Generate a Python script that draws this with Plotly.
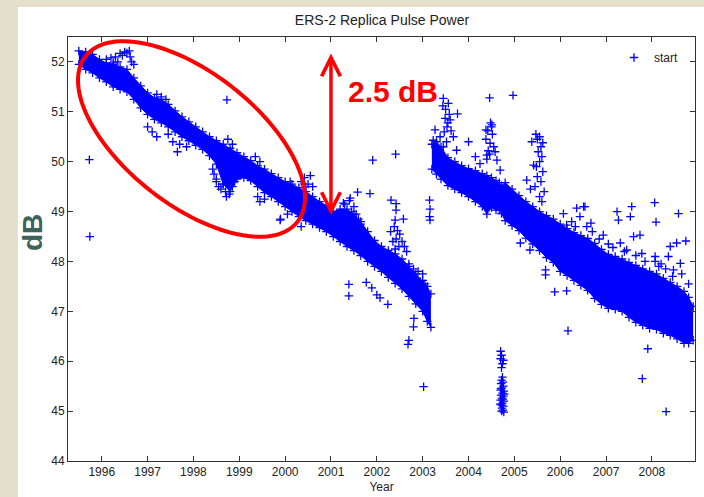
import numpy as np
import plotly.graph_objects as go

# ---------------------------------------------------------------
# ERS-2 replica pulse power (dB) versus year
# ---------------------------------------------------------------

# Dense part of the record, given as the lower / upper edge of the band
band1_year = [1995.50, 1995.65, 1995.80, 1995.95, 1996.10, 1996.25, 1996.40, 1996.55,
              1996.70, 1996.85, 1997.00, 1997.15, 1997.30, 1997.45, 1997.60, 1997.75,
              1997.90, 1998.05, 1998.20, 1998.35, 1998.50, 1998.65, 1998.80, 1998.95,
              1999.10, 1999.25, 1999.40, 1999.55, 1999.70, 1999.85, 2000.00, 2000.15,
              2000.30, 2000.45, 2000.60, 2000.75, 2000.90, 2001.05, 2001.20, 2001.35,
              2001.50, 2001.65, 2001.80, 2001.95, 2002.10, 2002.25, 2002.40, 2002.55,
              2002.70, 2002.85, 2003.00, 2003.10, 2003.18]
band1_hi = [52.22, 52.20, 52.15, 52.05, 51.98, 51.95, 51.90, 51.85,
            51.68, 51.52, 51.38, 51.28, 51.25, 51.15, 51.02, 50.90,
            50.80, 50.70, 50.60, 50.50, 50.42, 50.35, 50.27, 50.18,
            50.10, 50.02, 49.92, 49.85, 49.76, 49.68, 49.60, 49.55,
            49.48, 49.40, 49.30, 49.20, 49.12, 49.00, 49.05, 49.05,
            48.95, 48.80, 48.60, 48.42, 48.30, 48.22, 48.15, 48.05,
            47.90, 47.75, 47.62, 47.50, 47.35]
band1_lo = [51.95, 51.85, 51.78, 51.68, 51.60, 51.50, 51.45, 51.40,
            51.25, 51.08, 50.95, 50.85, 50.78, 50.70, 50.60, 50.50,
            50.42, 50.33, 50.25, 50.12, 49.95, 49.55, 49.40, 49.65,
            49.68, 49.62, 49.50, 49.38, 49.30, 49.20, 49.10, 49.00,
            48.90, 48.82, 48.75, 48.68, 48.60, 48.50, 48.40, 48.30,
            48.22, 48.12, 48.00, 47.90, 47.80, 47.68, 47.56, 47.45,
            47.30, 47.15, 47.00, 46.80, 46.68]

band2_year = [2003.20, 2003.30, 2003.40, 2003.55, 2003.70, 2003.85, 2004.00, 2004.15,
              2004.30, 2004.40, 2004.50, 2004.60, 2004.67, 2004.72, 2004.80, 2004.95,
              2005.10, 2005.25, 2005.40, 2005.55, 2005.70, 2005.85, 2006.00, 2006.15,
              2006.30, 2006.45, 2006.60, 2006.75, 2006.90, 2007.05, 2007.20, 2007.35,
              2007.50, 2007.65, 2007.80, 2007.95, 2008.10, 2008.25, 2008.40, 2008.55,
              2008.70, 2008.80, 2008.90]
band2_hi = [50.35, 50.40, 50.30, 50.08, 50.00, 49.92, 49.86, 49.82,
            49.76, 49.72, 49.68, 49.62, 49.58, 49.52, 49.58, 49.45,
            49.32, 49.20, 49.10, 49.00, 48.92, 48.85, 48.75, 48.66,
            48.58, 48.52, 48.46, 48.36, 48.24, 48.14, 48.10, 48.05,
            47.98, 47.92, 47.85, 47.80, 47.75, 47.66, 47.58, 47.50,
            47.40, 47.28, 47.10]
band2_lo = [49.85, 49.75, 49.65, 49.52, 49.45, 49.38, 49.30, 49.20,
            49.10, 48.95, 49.08, 49.03, 49.03, 48.96, 48.82, 48.72,
            48.62, 48.47, 48.35, 48.22, 48.08, 47.98, 47.80, 47.72,
            47.62, 47.52, 47.42, 47.26, 47.14, 47.06, 47.04, 47.00,
            46.88, 46.78, 46.72, 46.66, 46.64, 46.56, 46.52, 46.45,
            46.36, 46.36, 46.42]

# Individual samples away from the band (spikes, dips, outliers)
start_year = [
    # 1996 cluster and early outliers
    1996.10, 1996.20, 1996.30, 1996.40, 1996.45, 1996.50, 1996.55, 1996.60, 1996.62,
    1996.65, 1996.70, 1996.35, 1996.25, 1995.73, 1995.74, 1998.73,
    # small excursions 1997-2000
    1997.00, 1997.10, 1997.20, 1997.20, 1997.30, 1997.40,
    1997.45, 1997.55, 1997.65, 1997.70, 1997.85,
    1998.42, 1998.45, 1998.50, 1998.50, 1998.55, 1998.60, 1998.65, 1998.70, 1998.72,
    1998.78, 1998.85, 1998.90, 1998.75, 1998.85,
    1999.35, 1999.45, 1999.40, 1999.45, 1999.55,
    1999.90, 2000.05, 2000.35, 1999.89, 2000.11,
    2000.35, 2000.42, 2000.50, 2000.55, 2000.60, 2000.45,
    # 2001-2003
    2001.30, 2001.40, 2001.50, 2001.45, 2001.55, 2001.35, 2001.60, 2001.65,
    2001.27, 2001.42, 2001.58,
    2001.91, 2002.41, 2001.85, 2002.31, 2002.42, 2002.42, 2002.40, 2002.58,
    2002.30, 2002.38, 2002.45, 2002.50, 2002.42, 2002.35, 2002.55, 2002.48, 2002.60,
    2002.40, 2002.65,
    2002.70, 2002.80, 2002.90, 2003.00, 2002.95, 2003.05,
    2001.39, 2001.39, 2001.77, 2001.89, 2002.00, 2002.07, 2002.24, 2002.80, 2002.81,
    2002.70, 2002.68, 2003.02,
    2003.15, 2003.16, 2003.15, 2003.16,
    # 2003.5 spike
    2003.45, 2003.56, 2003.49, 2003.60, 2003.27, 2003.38, 2003.53, 2003.67, 2003.23,
    2003.74, 2003.45, 2003.50, 2003.58, 2003.44, 2003.55, 2003.47, 2003.62, 2003.52,
    2003.76, 2004.00,
    # 2004.4 spike
    2004.46, 2004.97, 2004.51, 2004.38, 2004.47, 2004.58, 2004.40, 2004.62, 2004.15,
    2004.25, 2004.69, 2004.48, 2004.50, 2004.42, 2004.52, 2004.38, 2004.55, 2004.43,
    2004.46, 2004.40,
    # 2004.7 low group
    2004.70, 2004.72, 2004.70, 2004.76, 2004.74, 2004.72, 2004.74, 2004.72, 2004.75,
    2004.71, 2004.76, 2004.73, 2004.70, 2004.77, 2004.74, 2004.71, 2004.76, 2004.73,
    2004.70, 2004.77, 2004.74, 2004.72, 2004.76, 2004.73, 2004.75, 2004.77, 2004.71,
    2004.75, 2004.72, 2004.78, 2004.69,
    # 2005.5 spike
    2005.47, 2005.55, 2005.50, 2005.62, 2005.58, 2005.52, 2005.60, 2005.55, 2005.48,
    2005.62, 2005.50, 2005.58, 2005.45, 2005.65, 2005.55, 2005.60, 2005.38, 2005.42,
    2005.27, 2005.35, 2005.13, 2005.34,
    # 2006-2008 upper fringe and outliers
    2006.36, 2006.54, 2006.43, 2006.33, 2006.58, 2006.07, 2006.14, 2006.51, 2006.67,
    2006.94, 2007.24, 2007.27, 2007.56, 2007.53, 2007.31, 2007.45, 2007.60, 2007.74,
    2007.78, 2008.07, 2008.07, 2008.06, 2008.09, 2008.58, 2008.74, 2008.40, 2008.54,
    2008.36, 2008.62, 2008.47,
    2006.25, 2006.70, 2006.85, 2007.05, 2007.15, 2007.40, 2007.65, 2007.85, 2008.20,
    2008.30, 2008.65, 2008.80, 2008.45, 2008.15,
    2005.68, 2005.68, 2005.88, 2006.14, 2006.17, 2007.91, 2007.79, 2008.31,
]
start_db = [
    52.05, 52.08, 52.10, 52.17, 52.13, 52.20, 52.18, 52.22, 52.10,
    52.00, 51.95, 52.00, 51.98, 50.04, 48.50, 51.24,
    50.70, 50.60, 50.50, 51.35, 51.30, 51.25,
    50.55, 50.40, 50.20, 50.35, 50.30,
    49.85, 49.75, 49.60, 49.65, 49.50, 49.45, 49.55, 49.40, 49.30,
    49.35, 49.50, 49.60, 50.45, 50.35,
    50.10, 50.00, 49.30, 49.20, 49.25,
    48.85, 48.95, 48.70, 48.83, 49.60,
    49.60, 49.68, 49.55, 49.72, 49.50, 49.50,
    49.15, 49.22, 49.10, 49.00, 48.95, 48.90, 48.85, 48.75,
    49.17, 49.27, 49.39,
    50.03, 50.15, 49.36, 49.23, 49.16, 49.03, 48.83, 48.85,
    48.60, 48.70, 48.62, 48.55, 48.45, 48.40, 48.40, 48.30, 48.30,
    48.25, 48.20,
    47.95, 47.85, 47.80, 47.75, 47.60, 47.55,
    47.54, 47.31, 47.58, 47.47, 47.33, 47.27, 47.14, 46.69, 46.86,
    46.42, 46.34, 45.49,
    49.23, 49.05, 48.90, 48.83,
    51.27, 51.17, 50.87, 50.84, 50.64, 50.50, 50.70, 50.50, 50.43,
    50.23, 50.30, 51.05, 50.95, 51.12, 50.78, 50.60, 50.62, 50.40,
    50.96, 50.40,
    51.28, 51.33, 50.74, 50.64, 50.37, 50.20, 50.13, 50.03, 50.10,
    49.96, 49.83, 50.78, 50.70, 50.62, 50.55, 50.45, 50.30, 50.22,
    50.15, 50.05,
    46.20, 46.12, 46.05, 46.02, 45.95, 45.87, 45.68, 45.62, 45.58,
    45.55, 45.50, 45.46, 45.42, 45.40, 45.36, 45.32, 45.30, 45.26,
    45.22, 45.20, 45.16, 45.12, 45.10, 45.06, 45.02, 44.98, 45.45,
    45.24, 45.00, 45.34, 45.14,
    50.55, 50.50, 50.45, 50.38, 50.30, 50.20, 50.10, 50.00, 49.90,
    49.80, 49.70, 49.60, 49.50, 49.40, 49.30, 49.20, 50.40, 49.93,
    49.63, 49.45, 48.37, 48.23,
    49.07, 49.10, 48.90, 48.70, 48.70, 48.96, 48.73, 49.10, 48.77,
    48.53, 49.00, 48.83, 49.10, 48.90, 48.37, 48.23, 48.50, 48.53,
    48.16, 48.10, 48.00, 49.18, 48.79, 48.96, 48.41, 48.30, 48.37,
    48.10, 47.96, 47.83,
    48.80, 48.60, 48.45, 48.35, 48.28, 48.20, 48.12, 48.00, 47.95,
    47.85, 47.75, 47.55, 47.70, 47.90,
    47.83, 47.73, 47.39, 47.41, 46.61, 46.25, 45.65, 44.99,
]

x_ticks = list(range(1996, 2009))
y_ticks = list(range(44, 53))

BLUE = "#0000FF"
RED = "#FF0000"
FONT = "Liberation Sans, Arial, sans-serif"

# page / plot-area geometry in pixels
W, H = 704, 497
L, R, T, B = 68, 695, 37, 461
X_RANGE = [1995.264, 2008.94]
Y_RANGE = [44.0, 52.5]


def px_to_paper(px, py):
    return (px - L) / (R - L), (B - py) / (B - T)


marker = dict(symbol="cross-thin-open", size=6, color=BLUE, line=dict(color=BLUE, width=1.3))

fig = go.Figure()

for yrs, lo, hi in ((band1_year, band1_lo, band1_hi), (band2_year, band2_lo, band2_hi)):
    fig.add_trace(go.Scatter(x=yrs, y=lo, mode="lines+markers", marker=marker,
                             line=dict(color=BLUE, width=1), showlegend=False,
                             legendgroup="start", hoverinfo="skip"))
    fig.add_trace(go.Scatter(x=yrs, y=hi, mode="lines+markers", marker=marker,
                             line=dict(color=BLUE, width=1), fill="tonexty",
                             fillcolor=BLUE, showlegend=False,
                             legendgroup="start", hoverinfo="skip"))

fig.add_trace(go.Scatter(x=start_year, y=start_db, mode="markers", name="start",
                         marker=marker, legendgroup="start"))

# white slide panel behind the axes
px0, py0 = px_to_paper(18, 497)
px1, py1 = px_to_paper(704, 7)
fig.add_shape(type="rect", xref="paper", yref="paper", x0=px0, y0=py0, x1=px1, y1=py1,
              fillcolor="white", line=dict(width=0), layer="below")

# red ellipse around the 1996-2000 decline (drawn in screen pixels)
cx, cy, a, b, th = 191.5, 139.0, 134.5, 66.0, np.radians(38.0)
t = np.linspace(0, 2 * np.pi, 121)
ex = cx + a * np.cos(t) * np.cos(th) - b * np.sin(t) * np.sin(th)
ey = cy + a * np.cos(t) * np.sin(th) + b * np.sin(t) * np.cos(th)
pts = [px_to_paper(u, v) for u, v in zip(ex, ey)]
path = "M " + " L ".join(f"{u:.5f},{v:.5f}" for u, v in pts) + " Z"
fig.add_shape(type="path", xref="paper", yref="paper", path=path,
              line=dict(color=RED, width=4))

# double-headed arrow marking the 2.5 dB drop
fig.add_annotation(x=2001.0, y=48.93, ax=2001.0, ay=52.2, xref="x", yref="y",
                   axref="x", ayref="y", text="", showarrow=True,
                   arrowside="end+start", arrowhead=5, startarrowhead=5,
                   arrowsize=1.05, startarrowsize=1.05, arrowwidth=3.5, arrowcolor=RED)
fig.add_annotation(x=2002.36, y=51.4, xref="x", yref="y", text="<b>2.5 dB</b>",
                   showarrow=False, font=dict(family=FONT, size=30, color=RED))

# large y label
lx, ly = px_to_paper(32, 233)
fig.add_annotation(x=lx, y=ly, xref="paper", yref="paper", text="<b>dB</b>",
                   textangle=-90, showarrow=False, xanchor="center", yanchor="middle",
                   font=dict(family=FONT, size=28, color="#3E6358"))

axis_common = dict(showline=True, linecolor="#333333", linewidth=1, mirror="allticks",
                   ticks="inside", ticklen=5, tickcolor="#333333", showgrid=False,
                   zeroline=False, tickfont=dict(family=FONT, size=12, color="#222222"))

fig.update_xaxes(range=X_RANGE, tickvals=x_ticks, ticktext=[str(v) for v in x_ticks],
                 title=dict(text="Year", font=dict(family=FONT, size=12, color="#222222"),
                            standoff=4), **axis_common)
fig.update_yaxes(range=Y_RANGE, tickvals=y_ticks, ticktext=[str(v) for v in y_ticks],
                 **axis_common)

lgx, lgy = px_to_paper(614, 43)
fig.update_layout(
    width=W, height=H,
    margin=dict(l=L, r=W - R, t=T, b=H - B, autoexpand=False),
    paper_bgcolor="#E5E0CC", plot_bgcolor="white",
    title=dict(text="ERS-2 Replica Pulse Power", x=(382) / W, xanchor="center",
               y=1 - 20 / H, yanchor="middle",
               font=dict(family=FONT, size=14, color="#222222")),
    legend=dict(x=lgx, y=lgy, xanchor="left", yanchor="top", bgcolor="rgba(0,0,0,0)",
                borderwidth=0, font=dict(family=FONT, size=12, color="#222222")),
    showlegend=True,
)

fig.write_html("out.html")
